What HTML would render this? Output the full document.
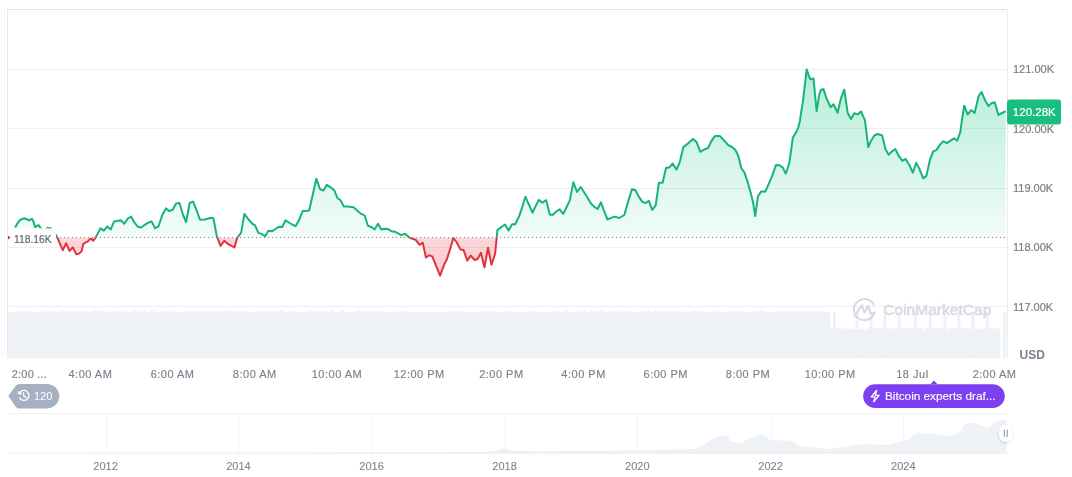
<!DOCTYPE html>
<html><head><meta charset="utf-8"><title>Bitcoin price chart</title>
<style>
html,body{margin:0;padding:0;background:#fff;}
body{width:1072px;height:477px;overflow:hidden;position:relative;font-family:'Liberation Sans', Arial, sans-serif;}
svg{position:absolute;left:0;top:0;display:block;}
svg text{font-family:'Liberation Sans', Arial, sans-serif;}
</style></head>
<body>
<svg width="1072" height="477" viewBox="0 0 1072 477">
<defs>
  <linearGradient id="gG" x1="0" y1="69" x2="0" y2="237.5" gradientUnits="userSpaceOnUse">
    <stop offset="0" stop-color="#16c784" stop-opacity="0.32"/>
    <stop offset="1" stop-color="#16c784" stop-opacity="0.055"/>
  </linearGradient>
  <linearGradient id="gR" x1="0" y1="237.5" x2="0" y2="276" gradientUnits="userSpaceOnUse">
    <stop offset="0" stop-color="#ea3943" stop-opacity="0.2"/>
    <stop offset="1" stop-color="#ea3943" stop-opacity="0.27"/>
  </linearGradient>
  <clipPath id="cUp"><rect x="0" y="0" width="1072" height="237.5"/></clipPath>
  <clipPath id="cDn"><rect x="0" y="237.5" width="1072" height="200"/></clipPath>
  <filter id="sh" x="-50%" y="-50%" width="200%" height="200%"><feDropShadow dx="0" dy="1" stdDeviation="1.2" flood-color="#000" flood-opacity="0.18"/></filter>
</defs>
<!-- frame -->
<g stroke="#eff2f5" stroke-width="1" fill="none">
  <line x1="7" y1="9.5" x2="1008" y2="9.5" stroke="#e5e6e8"/>
  <line x1="8" y1="11.5" x2="1007" y2="11.5" stroke="#f8f8f9"/>
  <line x1="7.5" y1="9" x2="7.5" y2="358" stroke="#ededef"/>
  <line x1="1.5" y1="9" x2="1.5" y2="358" stroke="#f9f9fa"/>
  <line x1="4.5" y1="9" x2="4.5" y2="358" stroke="#f9f9fa"/>
  <line x1="1007.5" y1="9" x2="1007.5" y2="358" stroke="#ededef"/>
</g>
<g stroke="#eeeff1" stroke-width="1"><line x1="8" y1="69.5" x2="1007" y2="69.5"/><line x1="8" y1="128.5" x2="1007" y2="128.5"/><line x1="8" y1="188.5" x2="1007" y2="188.5"/><line x1="8" y1="247.5" x2="1007" y2="247.5"/><line x1="8" y1="306.5" x2="1007" y2="306.5"/></g>
<!-- volume -->
<rect x="8" y="312" width="821" height="46" fill="#f4f6f8"/><rect x="829" y="329" width="171" height="29" fill="#f4f6f8"/><g fill="#eef1f5"><rect x="8.00" y="312.0" width="2.90" height="46.0"/><rect x="11.40" y="311.5" width="2.90" height="46.5"/><rect x="14.80" y="313.0" width="2.90" height="45.0"/><rect x="18.20" y="311.5" width="2.90" height="46.5"/><rect x="21.60" y="311.0" width="2.90" height="47.0"/><rect x="25.00" y="311.0" width="2.90" height="47.0"/><rect x="28.40" y="311.5" width="2.90" height="46.5"/><rect x="31.80" y="312.5" width="2.90" height="45.5"/><rect x="35.20" y="312.0" width="2.90" height="46.0"/><rect x="38.60" y="312.0" width="2.90" height="46.0"/><rect x="42.00" y="311.5" width="2.90" height="46.5"/><rect x="45.40" y="311.5" width="2.90" height="46.5"/><rect x="48.80" y="310.5" width="2.90" height="47.5"/><rect x="52.20" y="311.5" width="2.90" height="46.5"/><rect x="55.60" y="312.0" width="2.90" height="46.0"/><rect x="59.00" y="311.5" width="2.90" height="46.5"/><rect x="62.40" y="310.5" width="2.90" height="47.5"/><rect x="65.80" y="311.0" width="2.90" height="47.0"/><rect x="69.20" y="311.0" width="2.90" height="47.0"/><rect x="72.60" y="311.5" width="2.90" height="46.5"/><rect x="76.00" y="311.0" width="2.90" height="47.0"/><rect x="79.40" y="312.5" width="2.90" height="45.5"/><rect x="82.80" y="311.0" width="2.90" height="47.0"/><rect x="86.20" y="312.5" width="2.90" height="45.5"/><rect x="89.60" y="311.5" width="2.90" height="46.5"/><rect x="93.00" y="310.5" width="2.90" height="47.5"/><rect x="96.40" y="310.5" width="2.90" height="47.5"/><rect x="99.80" y="310.5" width="2.90" height="47.5"/><rect x="103.20" y="311.5" width="2.90" height="46.5"/><rect x="106.60" y="311.5" width="2.90" height="46.5"/><rect x="110.00" y="313.0" width="2.90" height="45.0"/><rect x="113.40" y="311.0" width="2.90" height="47.0"/><rect x="116.80" y="311.0" width="2.90" height="47.0"/><rect x="120.20" y="311.5" width="2.90" height="46.5"/><rect x="123.60" y="311.5" width="2.90" height="46.5"/><rect x="127.00" y="312.0" width="2.90" height="46.0"/><rect x="130.40" y="312.5" width="2.90" height="45.5"/><rect x="133.80" y="310.5" width="2.90" height="47.5"/><rect x="137.20" y="312.5" width="2.90" height="45.5"/><rect x="140.60" y="310.5" width="2.90" height="47.5"/><rect x="144.00" y="310.5" width="2.90" height="47.5"/><rect x="147.40" y="313.0" width="2.90" height="45.0"/><rect x="150.80" y="310.5" width="2.90" height="47.5"/><rect x="154.20" y="312.0" width="2.90" height="46.0"/><rect x="157.60" y="313.0" width="2.90" height="45.0"/><rect x="161.00" y="311.0" width="2.90" height="47.0"/><rect x="164.40" y="312.5" width="2.90" height="45.5"/><rect x="167.80" y="311.5" width="2.90" height="46.5"/><rect x="171.20" y="313.0" width="2.90" height="45.0"/><rect x="174.60" y="311.0" width="2.90" height="47.0"/><rect x="178.00" y="312.0" width="2.90" height="46.0"/><rect x="181.40" y="312.5" width="2.90" height="45.5"/><rect x="184.80" y="312.5" width="2.90" height="45.5"/><rect x="188.20" y="311.0" width="2.90" height="47.0"/><rect x="191.60" y="311.0" width="2.90" height="47.0"/><rect x="195.00" y="311.5" width="2.90" height="46.5"/><rect x="198.40" y="311.5" width="2.90" height="46.5"/><rect x="201.80" y="311.0" width="2.90" height="47.0"/><rect x="205.20" y="313.0" width="2.90" height="45.0"/><rect x="208.60" y="311.0" width="2.90" height="47.0"/><rect x="212.00" y="310.5" width="2.90" height="47.5"/><rect x="215.40" y="311.5" width="2.90" height="46.5"/><rect x="218.80" y="311.0" width="2.90" height="47.0"/><rect x="222.20" y="312.5" width="2.90" height="45.5"/><rect x="225.60" y="310.5" width="2.90" height="47.5"/><rect x="229.00" y="310.5" width="2.90" height="47.5"/><rect x="232.40" y="311.0" width="2.90" height="47.0"/><rect x="235.80" y="311.0" width="2.90" height="47.0"/><rect x="239.20" y="311.0" width="2.90" height="47.0"/><rect x="242.60" y="310.5" width="2.90" height="47.5"/><rect x="246.00" y="313.0" width="2.90" height="45.0"/><rect x="249.40" y="312.5" width="2.90" height="45.5"/><rect x="252.80" y="312.0" width="2.90" height="46.0"/><rect x="256.20" y="311.0" width="2.90" height="47.0"/><rect x="259.60" y="312.5" width="2.90" height="45.5"/><rect x="263.00" y="311.0" width="2.90" height="47.0"/><rect x="266.40" y="311.0" width="2.90" height="47.0"/><rect x="269.80" y="311.0" width="2.90" height="47.0"/><rect x="273.20" y="311.0" width="2.90" height="47.0"/><rect x="276.60" y="312.0" width="2.90" height="46.0"/><rect x="280.00" y="310.5" width="2.90" height="47.5"/><rect x="283.40" y="312.5" width="2.90" height="45.5"/><rect x="286.80" y="312.5" width="2.90" height="45.5"/><rect x="290.20" y="311.5" width="2.90" height="46.5"/><rect x="293.60" y="311.0" width="2.90" height="47.0"/><rect x="297.00" y="313.0" width="2.90" height="45.0"/><rect x="300.40" y="313.0" width="2.90" height="45.0"/><rect x="303.80" y="313.0" width="2.90" height="45.0"/><rect x="307.20" y="311.5" width="2.90" height="46.5"/><rect x="310.60" y="310.5" width="2.90" height="47.5"/><rect x="314.00" y="310.5" width="2.90" height="47.5"/><rect x="317.40" y="311.5" width="2.90" height="46.5"/><rect x="320.80" y="310.5" width="2.90" height="47.5"/><rect x="324.20" y="311.0" width="2.90" height="47.0"/><rect x="327.60" y="312.5" width="2.90" height="45.5"/><rect x="331.00" y="310.5" width="2.90" height="47.5"/><rect x="334.40" y="312.0" width="2.90" height="46.0"/><rect x="337.80" y="312.5" width="2.90" height="45.5"/><rect x="341.20" y="310.5" width="2.90" height="47.5"/><rect x="344.60" y="312.5" width="2.90" height="45.5"/><rect x="348.00" y="312.5" width="2.90" height="45.5"/><rect x="351.40" y="313.0" width="2.90" height="45.0"/><rect x="354.80" y="311.0" width="2.90" height="47.0"/><rect x="358.20" y="310.5" width="2.90" height="47.5"/><rect x="361.60" y="313.0" width="2.90" height="45.0"/><rect x="365.00" y="311.0" width="2.90" height="47.0"/><rect x="368.40" y="310.5" width="2.90" height="47.5"/><rect x="371.80" y="311.5" width="2.90" height="46.5"/><rect x="375.20" y="311.0" width="2.90" height="47.0"/><rect x="378.60" y="313.0" width="2.90" height="45.0"/><rect x="382.00" y="311.5" width="2.90" height="46.5"/><rect x="385.40" y="313.0" width="2.90" height="45.0"/><rect x="388.80" y="313.0" width="2.90" height="45.0"/><rect x="392.20" y="312.5" width="2.90" height="45.5"/><rect x="395.60" y="311.5" width="2.90" height="46.5"/><rect x="399.00" y="311.0" width="2.90" height="47.0"/><rect x="402.40" y="311.0" width="2.90" height="47.0"/><rect x="405.80" y="311.0" width="2.90" height="47.0"/><rect x="409.20" y="313.0" width="2.90" height="45.0"/><rect x="412.60" y="312.5" width="2.90" height="45.5"/><rect x="416.00" y="311.5" width="2.90" height="46.5"/><rect x="419.40" y="312.5" width="2.90" height="45.5"/><rect x="422.80" y="313.0" width="2.90" height="45.0"/><rect x="426.20" y="311.5" width="2.90" height="46.5"/><rect x="429.60" y="313.0" width="2.90" height="45.0"/><rect x="433.00" y="311.5" width="2.90" height="46.5"/><rect x="436.40" y="313.0" width="2.90" height="45.0"/><rect x="439.80" y="313.0" width="2.90" height="45.0"/><rect x="443.20" y="312.5" width="2.90" height="45.5"/><rect x="446.60" y="312.5" width="2.90" height="45.5"/><rect x="450.00" y="310.5" width="2.90" height="47.5"/><rect x="453.40" y="311.0" width="2.90" height="47.0"/><rect x="456.80" y="311.0" width="2.90" height="47.0"/><rect x="460.20" y="311.5" width="2.90" height="46.5"/><rect x="463.60" y="312.5" width="2.90" height="45.5"/><rect x="467.00" y="312.0" width="2.90" height="46.0"/><rect x="470.40" y="312.5" width="2.90" height="45.5"/><rect x="473.80" y="312.0" width="2.90" height="46.0"/><rect x="477.20" y="313.0" width="2.90" height="45.0"/><rect x="480.60" y="311.5" width="2.90" height="46.5"/><rect x="484.00" y="310.5" width="2.90" height="47.5"/><rect x="487.40" y="311.0" width="2.90" height="47.0"/><rect x="490.80" y="311.0" width="2.90" height="47.0"/><rect x="494.20" y="313.0" width="2.90" height="45.0"/><rect x="497.60" y="313.0" width="2.90" height="45.0"/><rect x="501.00" y="312.0" width="2.90" height="46.0"/><rect x="504.40" y="311.5" width="2.90" height="46.5"/><rect x="507.80" y="311.5" width="2.90" height="46.5"/><rect x="511.20" y="311.0" width="2.90" height="47.0"/><rect x="514.60" y="313.0" width="2.90" height="45.0"/><rect x="518.00" y="312.0" width="2.90" height="46.0"/><rect x="521.40" y="311.5" width="2.90" height="46.5"/><rect x="524.80" y="312.5" width="2.90" height="45.5"/><rect x="528.20" y="312.0" width="2.90" height="46.0"/><rect x="531.60" y="311.0" width="2.90" height="47.0"/><rect x="535.00" y="311.0" width="2.90" height="47.0"/><rect x="538.40" y="312.0" width="2.90" height="46.0"/><rect x="541.80" y="313.0" width="2.90" height="45.0"/><rect x="545.20" y="311.5" width="2.90" height="46.5"/><rect x="548.60" y="312.5" width="2.90" height="45.5"/><rect x="552.00" y="313.0" width="2.90" height="45.0"/><rect x="555.40" y="311.0" width="2.90" height="47.0"/><rect x="558.80" y="313.0" width="2.90" height="45.0"/><rect x="562.20" y="311.5" width="2.90" height="46.5"/><rect x="565.60" y="310.5" width="2.90" height="47.5"/><rect x="569.00" y="312.5" width="2.90" height="45.5"/><rect x="572.40" y="312.5" width="2.90" height="45.5"/><rect x="575.80" y="311.5" width="2.90" height="46.5"/><rect x="579.20" y="313.0" width="2.90" height="45.0"/><rect x="582.60" y="310.5" width="2.90" height="47.5"/><rect x="586.00" y="312.5" width="2.90" height="45.5"/><rect x="589.40" y="310.5" width="2.90" height="47.5"/><rect x="592.80" y="310.5" width="2.90" height="47.5"/><rect x="596.20" y="311.0" width="2.90" height="47.0"/><rect x="599.60" y="310.5" width="2.90" height="47.5"/><rect x="603.00" y="311.5" width="2.90" height="46.5"/><rect x="606.40" y="312.0" width="2.90" height="46.0"/><rect x="609.80" y="311.0" width="2.90" height="47.0"/><rect x="613.20" y="311.5" width="2.90" height="46.5"/><rect x="616.60" y="310.5" width="2.90" height="47.5"/><rect x="620.00" y="312.0" width="2.90" height="46.0"/><rect x="623.40" y="311.0" width="2.90" height="47.0"/><rect x="626.80" y="311.5" width="2.90" height="46.5"/><rect x="630.20" y="312.5" width="2.90" height="45.5"/><rect x="633.60" y="313.0" width="2.90" height="45.0"/><rect x="637.00" y="312.0" width="2.90" height="46.0"/><rect x="640.40" y="311.0" width="2.90" height="47.0"/><rect x="643.80" y="312.5" width="2.90" height="45.5"/><rect x="647.20" y="311.0" width="2.90" height="47.0"/><rect x="650.60" y="312.0" width="2.90" height="46.0"/><rect x="654.00" y="311.0" width="2.90" height="47.0"/><rect x="657.40" y="311.0" width="2.90" height="47.0"/><rect x="660.80" y="312.0" width="2.90" height="46.0"/><rect x="664.20" y="310.5" width="2.90" height="47.5"/><rect x="667.60" y="311.0" width="2.90" height="47.0"/><rect x="671.00" y="311.0" width="2.90" height="47.0"/><rect x="674.40" y="311.5" width="2.90" height="46.5"/><rect x="677.80" y="311.0" width="2.90" height="47.0"/><rect x="681.20" y="311.5" width="2.90" height="46.5"/><rect x="684.60" y="312.5" width="2.90" height="45.5"/><rect x="688.00" y="312.0" width="2.90" height="46.0"/><rect x="691.40" y="311.0" width="2.90" height="47.0"/><rect x="694.80" y="310.5" width="2.90" height="47.5"/><rect x="698.20" y="311.0" width="2.90" height="47.0"/><rect x="701.60" y="311.0" width="2.90" height="47.0"/><rect x="705.00" y="313.0" width="2.90" height="45.0"/><rect x="708.40" y="311.5" width="2.90" height="46.5"/><rect x="711.80" y="312.5" width="2.90" height="45.5"/><rect x="715.20" y="311.5" width="2.90" height="46.5"/><rect x="718.60" y="311.0" width="2.90" height="47.0"/><rect x="722.00" y="313.0" width="2.90" height="45.0"/><rect x="725.40" y="312.0" width="2.90" height="46.0"/><rect x="728.80" y="312.0" width="2.90" height="46.0"/><rect x="732.20" y="311.0" width="2.90" height="47.0"/><rect x="735.60" y="311.0" width="2.90" height="47.0"/><rect x="739.00" y="311.5" width="2.90" height="46.5"/><rect x="742.40" y="312.0" width="2.90" height="46.0"/><rect x="745.80" y="312.5" width="2.90" height="45.5"/><rect x="749.20" y="311.5" width="2.90" height="46.5"/><rect x="752.60" y="311.0" width="2.90" height="47.0"/><rect x="756.00" y="311.5" width="2.90" height="46.5"/><rect x="759.40" y="310.5" width="2.90" height="47.5"/><rect x="762.80" y="311.0" width="2.90" height="47.0"/><rect x="766.20" y="312.5" width="2.90" height="45.5"/><rect x="769.60" y="312.0" width="2.90" height="46.0"/><rect x="773.00" y="312.5" width="2.90" height="45.5"/><rect x="776.40" y="310.5" width="2.90" height="47.5"/><rect x="779.80" y="311.0" width="2.90" height="47.0"/><rect x="783.20" y="311.5" width="2.90" height="46.5"/><rect x="786.60" y="313.0" width="2.90" height="45.0"/><rect x="790.00" y="311.0" width="2.90" height="47.0"/><rect x="793.40" y="311.0" width="2.90" height="47.0"/><rect x="796.80" y="311.5" width="2.90" height="46.5"/><rect x="800.20" y="311.0" width="2.90" height="47.0"/><rect x="803.60" y="311.0" width="2.90" height="47.0"/><rect x="807.00" y="311.0" width="2.90" height="47.0"/><rect x="810.40" y="311.0" width="2.90" height="47.0"/><rect x="813.80" y="311.5" width="2.90" height="46.5"/><rect x="817.20" y="311.0" width="2.90" height="47.0"/><rect x="820.60" y="311.0" width="2.90" height="47.0"/><rect x="824.00" y="311.5" width="2.90" height="46.5"/><rect x="827.40" y="313.0" width="2.90" height="45.0"/><rect x="830.80" y="328.5" width="2.90" height="29.5"/><rect x="834.20" y="329.0" width="2.90" height="29.0"/><rect x="837.60" y="328.0" width="2.90" height="30.0"/><rect x="841.00" y="329.0" width="2.90" height="29.0"/><rect x="844.40" y="327.5" width="2.90" height="30.5"/><rect x="847.80" y="327.5" width="2.90" height="30.5"/><rect x="851.20" y="329.0" width="2.90" height="29.0"/><rect x="854.60" y="329.0" width="2.90" height="29.0"/><rect x="858.00" y="329.0" width="2.90" height="29.0"/><rect x="861.40" y="328.5" width="2.90" height="29.5"/><rect x="864.80" y="329.0" width="2.90" height="29.0"/><rect x="868.20" y="327.5" width="2.90" height="30.5"/><rect x="871.60" y="328.0" width="2.90" height="30.0"/><rect x="875.00" y="328.5" width="2.90" height="29.5"/><rect x="878.40" y="328.0" width="2.90" height="30.0"/><rect x="881.80" y="327.5" width="2.90" height="30.5"/><rect x="885.20" y="328.0" width="2.90" height="30.0"/><rect x="888.60" y="328.5" width="2.90" height="29.5"/><rect x="892.00" y="328.0" width="2.90" height="30.0"/><rect x="895.40" y="329.0" width="2.90" height="29.0"/><rect x="898.80" y="327.5" width="2.90" height="30.5"/><rect x="902.20" y="327.5" width="2.90" height="30.5"/><rect x="905.60" y="328.0" width="2.90" height="30.0"/><rect x="909.00" y="327.5" width="2.90" height="30.5"/><rect x="912.40" y="328.0" width="2.90" height="30.0"/><rect x="915.80" y="329.0" width="2.90" height="29.0"/><rect x="919.20" y="327.5" width="2.90" height="30.5"/><rect x="922.60" y="329.0" width="2.90" height="29.0"/><rect x="926.00" y="327.5" width="2.90" height="30.5"/><rect x="929.40" y="327.5" width="2.90" height="30.5"/><rect x="932.80" y="327.5" width="2.90" height="30.5"/><rect x="936.20" y="328.0" width="2.90" height="30.0"/><rect x="939.60" y="328.5" width="2.90" height="29.5"/><rect x="943.00" y="328.5" width="2.90" height="29.5"/><rect x="946.40" y="329.0" width="2.90" height="29.0"/><rect x="949.80" y="328.0" width="2.90" height="30.0"/><rect x="953.20" y="327.5" width="2.90" height="30.5"/><rect x="956.60" y="328.5" width="2.90" height="29.5"/><rect x="960.00" y="327.5" width="2.90" height="30.5"/><rect x="963.40" y="328.5" width="2.90" height="29.5"/><rect x="966.80" y="328.0" width="2.90" height="30.0"/><rect x="970.20" y="329.0" width="2.90" height="29.0"/><rect x="973.60" y="329.0" width="2.90" height="29.0"/><rect x="977.00" y="329.0" width="2.90" height="29.0"/><rect x="980.40" y="328.0" width="2.90" height="30.0"/><rect x="983.80" y="327.5" width="2.90" height="30.5"/><rect x="987.20" y="328.0" width="2.90" height="30.0"/><rect x="990.60" y="327.5" width="2.90" height="30.5"/><rect x="994.00" y="328.0" width="2.90" height="30.0"/><rect x="997.40" y="329.0" width="2.90" height="29.0"/><rect x="833.00" y="311.5" width="2.9" height="46.5"/><rect x="855.50" y="311.5" width="2.9" height="46.5"/><rect x="869.50" y="311.5" width="2.9" height="46.5"/><rect x="883.50" y="311.5" width="2.9" height="46.5"/><rect x="897.70" y="311.5" width="2.9" height="46.5"/><rect x="914.00" y="311.5" width="2.9" height="46.5"/><rect x="928.80" y="311.5" width="2.9" height="46.5"/><rect x="943.50" y="311.5" width="2.9" height="46.5"/><rect x="957.50" y="311.5" width="2.9" height="46.5"/><rect x="971.50" y="311.5" width="2.9" height="46.5"/><rect x="986.00" y="311.5" width="2.9" height="46.5"/><rect x="1003.20" y="311.5" width="2.9" height="46.5"/></g>
<!-- watermark -->
<g opacity="0.9">
  <path d="M874.6 312.6 A10.6 10.6 0 1 1 874.2 305.5" fill="none" stroke="#d2d7df" stroke-width="2"/>
  <path d="M854.5 316.5 L861.8 305 L864.5 312.6 L868 305.8 L870.3 312.4 Q871.5 314.5 874.8 312.4" fill="none" stroke="#d2d7df" stroke-width="2" stroke-linejoin="round" stroke-linecap="round"/>
  <text x="883.3" y="315.4" font-size="14.6" font-weight="400" fill="#d2d7df" stroke="#d2d7df" stroke-width="0.55" textLength="108" lengthAdjust="spacingAndGlyphs">CoinMarketCap</text>
</g>
<!-- fills -->
<path d="M15.1 227.6 L17.2 223.8 L19.7 220.4 L22.2 218.8 L24.7 218.5 L26.8 219.2 L28.9 220.4 L31.9 218.8 L33.5 221.7 L35.2 227.2 L36.9 225.9 L38.6 225.1 L40.2 227.6 L43.0 231.5 L45.0 230.5 L47.4 227.9 L50.3 227.9 L53.0 232.0 L56.6 235.9 L62.7 250.2 L66.1 243.4 L69.5 250.9 L72.9 247.5 L76.3 254.3 L79.1 253.6 L81.8 250.9 L83.2 244.1 L85.2 242.7 L87.9 241.3 L90.6 238.6 L93.4 240.7 L95.4 237.9 L100.5 228.2 L103.9 230.6 L107.3 226.5 L110.7 229.5 L114.1 221.4 L116.8 221.1 L120.9 220.3 L124.3 223.8 L127.7 218.6 L131.1 216.6 L134.5 222.7 L137.9 226.8 L141.3 227.5 L144.8 224.8 L148.2 222.7 L151.6 221.4 L155.0 228.2 L158.4 226.5 L162.5 214.5 L165.9 208.4 L169.3 211.1 L172.7 209.8 L176.1 203.6 L179.5 203.0 L182.9 214.5 L186.1 222.0 L189.7 203.0 L193.1 201.6 L196.6 210.4 L200.0 219.7 L205.0 219.5 L210.9 217.8 L213.4 218.3 L216.8 236.2 L220.5 245.8 L224.3 240.8 L227.7 243.8 L231.0 245.5 L234.4 247.5 L237.2 237.9 L241.1 232.9 L244.4 213.9 L248.6 219.5 L252.0 223.3 L255.0 225.3 L258.4 232.9 L262.0 234.1 L265.1 236.2 L268.4 230.7 L272.1 231.2 L275.5 229.0 L278.8 226.7 L282.2 227.0 L285.5 220.3 L288.9 222.5 L292.2 224.5 L295.6 226.2 L298.9 220.3 L302.6 211.1 L306.5 211.1 L309.2 210.2 L312.6 195.2 L316.3 178.7 L320.1 189.3 L323.5 190.5 L326.8 184.8 L331.0 187.6 L334.4 190.5 L337.2 197.7 L340.6 200.2 L343.9 206.6 L347.8 206.6 L353.7 207.2 L357.8 211.1 L361.2 213.9 L364.6 215.3 L367.9 225.8 L371.3 227.0 L374.6 229.5 L378.0 223.7 L381.3 229.5 L384.7 228.7 L388.0 229.0 L391.4 231.2 L394.7 231.7 L398.1 233.4 L401.4 235.1 L405.0 233.8 L409.4 237.5 L412.6 238.8 L415.7 239.9 L419.6 244.9 L422.8 242.7 L425.9 257.5 L429.1 255.3 L432.2 256.4 L436.1 265.8 L440.1 275.7 L444.0 265.0 L447.1 258.7 L450.3 248.5 L453.4 238.0 L456.6 242.2 L460.5 249.6 L463.6 250.1 L467.3 260.6 L470.7 255.6 L474.6 260.0 L477.8 258.7 L480.9 252.7 L484.5 267.4 L488.0 247.7 L491.5 264.7 L495.1 254.0 L497.4 230.1 L501.4 227.0 L505.0 224.5 L508.5 230.5 L512.1 224.2 L515.2 224.2 L519.1 216.4 L522.3 206.9 L525.4 196.7 L528.9 204.6 L532.5 212.7 L535.6 206.1 L538.8 199.9 L542.4 202.7 L546.2 200.2 L549.8 214.8 L552.9 214.8 L556.1 211.6 L559.7 209.3 L563.1 214.0 L566.3 207.7 L569.7 200.6 L573.4 182.3 L577.0 192.0 L580.7 187.0 L584.4 192.8 L587.5 197.5 L590.6 203.0 L594.3 206.9 L597.7 209.0 L600.9 202.2 L604.0 210.9 L607.5 219.5 L611.1 217.9 L614.8 216.6 L619.2 218.0 L624.3 215.0 L628.0 201.9 L631.9 189.2 L635.4 190.3 L638.8 196.6 L642.3 201.9 L645.7 203.0 L648.7 200.7 L652.2 209.9 L655.7 205.3 L658.9 182.7 L662.6 182.7 L666.0 168.0 L669.5 167.3 L672.7 163.4 L676.4 169.6 L679.6 162.7 L683.3 147.2 L688.4 143.1 L693.0 138.9 L696.5 141.9 L700.4 151.8 L704.1 149.5 L708.0 148.1 L711.5 140.8 L714.9 136.1 L719.8 136.0 L724.4 140.7 L728.0 144.9 L731.8 147.0 L735.5 150.1 L738.5 156.4 L741.2 168.0 L744.3 172.1 L747.5 181.6 L751.0 194.1 L753.1 202.5 L755.2 216.1 L758.0 196.2 L761.1 191.6 L765.3 191.6 L768.4 184.7 L772.0 176.3 L775.9 165.1 L779.6 165.2 L782.8 167.6 L785.8 173.7 L789.2 163.5 L790.8 152.5 L792.8 137.6 L796.1 132.3 L798.3 127.3 L799.9 121.0 L801.5 110.0 L802.8 102.6 L804.9 84.8 L806.7 69.4 L808.5 74.8 L810.4 79.4 L813.5 78.4 L816.6 111.1 L819.2 94.8 L820.9 89.8 L823.5 89.1 L826.3 97.6 L830.5 107.2 L833.6 104.2 L837.6 112.7 L840.9 98.4 L844.3 89.7 L847.6 112.7 L851.0 118.9 L854.3 113.2 L857.7 114.4 L861.0 111.5 L864.9 120.2 L868.3 147.1 L871.1 140.7 L874.5 135.3 L877.8 134.0 L882.2 135.5 L885.4 149.1 L888.6 154.8 L892.0 151.4 L895.4 149.1 L898.6 155.7 L902.4 160.8 L905.6 158.9 L909.4 165.2 L912.8 172.7 L916.2 162.7 L919.4 168.9 L923.2 178.4 L926.4 175.9 L929.8 160.4 L933.2 151.4 L936.4 150.1 L940.2 144.4 L943.4 141.2 L946.8 143.1 L950.6 140.6 L954.0 138.3 L957.2 140.6 L960.3 132.1 L962.0 119.6 L964.2 105.7 L967.6 114.5 L971.3 110.1 L974.6 113.0 L976.7 104.2 L978.6 96.1 L981.5 92.0 L985.2 100.5 L988.4 106.1 L991.4 103.2 L994.7 102.3 L998.4 114.9 L1002.1 113.0 L1005.7 111.1 L1005.7 237.5 L15.1 237.5 Z" fill="url(#gG)" clip-path="url(#cUp)"/>
<path d="M15.1 227.6 L17.2 223.8 L19.7 220.4 L22.2 218.8 L24.7 218.5 L26.8 219.2 L28.9 220.4 L31.9 218.8 L33.5 221.7 L35.2 227.2 L36.9 225.9 L38.6 225.1 L40.2 227.6 L43.0 231.5 L45.0 230.5 L47.4 227.9 L50.3 227.9 L53.0 232.0 L56.6 235.9 L62.7 250.2 L66.1 243.4 L69.5 250.9 L72.9 247.5 L76.3 254.3 L79.1 253.6 L81.8 250.9 L83.2 244.1 L85.2 242.7 L87.9 241.3 L90.6 238.6 L93.4 240.7 L95.4 237.9 L100.5 228.2 L103.9 230.6 L107.3 226.5 L110.7 229.5 L114.1 221.4 L116.8 221.1 L120.9 220.3 L124.3 223.8 L127.7 218.6 L131.1 216.6 L134.5 222.7 L137.9 226.8 L141.3 227.5 L144.8 224.8 L148.2 222.7 L151.6 221.4 L155.0 228.2 L158.4 226.5 L162.5 214.5 L165.9 208.4 L169.3 211.1 L172.7 209.8 L176.1 203.6 L179.5 203.0 L182.9 214.5 L186.1 222.0 L189.7 203.0 L193.1 201.6 L196.6 210.4 L200.0 219.7 L205.0 219.5 L210.9 217.8 L213.4 218.3 L216.8 236.2 L220.5 245.8 L224.3 240.8 L227.7 243.8 L231.0 245.5 L234.4 247.5 L237.2 237.9 L241.1 232.9 L244.4 213.9 L248.6 219.5 L252.0 223.3 L255.0 225.3 L258.4 232.9 L262.0 234.1 L265.1 236.2 L268.4 230.7 L272.1 231.2 L275.5 229.0 L278.8 226.7 L282.2 227.0 L285.5 220.3 L288.9 222.5 L292.2 224.5 L295.6 226.2 L298.9 220.3 L302.6 211.1 L306.5 211.1 L309.2 210.2 L312.6 195.2 L316.3 178.7 L320.1 189.3 L323.5 190.5 L326.8 184.8 L331.0 187.6 L334.4 190.5 L337.2 197.7 L340.6 200.2 L343.9 206.6 L347.8 206.6 L353.7 207.2 L357.8 211.1 L361.2 213.9 L364.6 215.3 L367.9 225.8 L371.3 227.0 L374.6 229.5 L378.0 223.7 L381.3 229.5 L384.7 228.7 L388.0 229.0 L391.4 231.2 L394.7 231.7 L398.1 233.4 L401.4 235.1 L405.0 233.8 L409.4 237.5 L412.6 238.8 L415.7 239.9 L419.6 244.9 L422.8 242.7 L425.9 257.5 L429.1 255.3 L432.2 256.4 L436.1 265.8 L440.1 275.7 L444.0 265.0 L447.1 258.7 L450.3 248.5 L453.4 238.0 L456.6 242.2 L460.5 249.6 L463.6 250.1 L467.3 260.6 L470.7 255.6 L474.6 260.0 L477.8 258.7 L480.9 252.7 L484.5 267.4 L488.0 247.7 L491.5 264.7 L495.1 254.0 L497.4 230.1 L501.4 227.0 L505.0 224.5 L508.5 230.5 L512.1 224.2 L515.2 224.2 L519.1 216.4 L522.3 206.9 L525.4 196.7 L528.9 204.6 L532.5 212.7 L535.6 206.1 L538.8 199.9 L542.4 202.7 L546.2 200.2 L549.8 214.8 L552.9 214.8 L556.1 211.6 L559.7 209.3 L563.1 214.0 L566.3 207.7 L569.7 200.6 L573.4 182.3 L577.0 192.0 L580.7 187.0 L584.4 192.8 L587.5 197.5 L590.6 203.0 L594.3 206.9 L597.7 209.0 L600.9 202.2 L604.0 210.9 L607.5 219.5 L611.1 217.9 L614.8 216.6 L619.2 218.0 L624.3 215.0 L628.0 201.9 L631.9 189.2 L635.4 190.3 L638.8 196.6 L642.3 201.9 L645.7 203.0 L648.7 200.7 L652.2 209.9 L655.7 205.3 L658.9 182.7 L662.6 182.7 L666.0 168.0 L669.5 167.3 L672.7 163.4 L676.4 169.6 L679.6 162.7 L683.3 147.2 L688.4 143.1 L693.0 138.9 L696.5 141.9 L700.4 151.8 L704.1 149.5 L708.0 148.1 L711.5 140.8 L714.9 136.1 L719.8 136.0 L724.4 140.7 L728.0 144.9 L731.8 147.0 L735.5 150.1 L738.5 156.4 L741.2 168.0 L744.3 172.1 L747.5 181.6 L751.0 194.1 L753.1 202.5 L755.2 216.1 L758.0 196.2 L761.1 191.6 L765.3 191.6 L768.4 184.7 L772.0 176.3 L775.9 165.1 L779.6 165.2 L782.8 167.6 L785.8 173.7 L789.2 163.5 L790.8 152.5 L792.8 137.6 L796.1 132.3 L798.3 127.3 L799.9 121.0 L801.5 110.0 L802.8 102.6 L804.9 84.8 L806.7 69.4 L808.5 74.8 L810.4 79.4 L813.5 78.4 L816.6 111.1 L819.2 94.8 L820.9 89.8 L823.5 89.1 L826.3 97.6 L830.5 107.2 L833.6 104.2 L837.6 112.7 L840.9 98.4 L844.3 89.7 L847.6 112.7 L851.0 118.9 L854.3 113.2 L857.7 114.4 L861.0 111.5 L864.9 120.2 L868.3 147.1 L871.1 140.7 L874.5 135.3 L877.8 134.0 L882.2 135.5 L885.4 149.1 L888.6 154.8 L892.0 151.4 L895.4 149.1 L898.6 155.7 L902.4 160.8 L905.6 158.9 L909.4 165.2 L912.8 172.7 L916.2 162.7 L919.4 168.9 L923.2 178.4 L926.4 175.9 L929.8 160.4 L933.2 151.4 L936.4 150.1 L940.2 144.4 L943.4 141.2 L946.8 143.1 L950.6 140.6 L954.0 138.3 L957.2 140.6 L960.3 132.1 L962.0 119.6 L964.2 105.7 L967.6 114.5 L971.3 110.1 L974.6 113.0 L976.7 104.2 L978.6 96.1 L981.5 92.0 L985.2 100.5 L988.4 106.1 L991.4 103.2 L994.7 102.3 L998.4 114.9 L1002.1 113.0 L1005.7 111.1 L1005.7 237.5 L15.1 237.5 Z" fill="url(#gR)" clip-path="url(#cDn)"/>
<!-- baseline dotted -->
<line x1="8" y1="237.5" x2="1006" y2="237.5" stroke="#7f838b" stroke-width="1" stroke-dasharray="1 3"/>
<!-- line -->
<path d="M15.1 227.6 L17.2 223.8 L19.7 220.4 L22.2 218.8 L24.7 218.5 L26.8 219.2 L28.9 220.4 L31.9 218.8 L33.5 221.7 L35.2 227.2 L36.9 225.9 L38.6 225.1 L40.2 227.6 L43.0 231.5 L45.0 230.5 L47.4 227.9 L50.3 227.9 L53.0 232.0 L56.6 235.9 L62.7 250.2 L66.1 243.4 L69.5 250.9 L72.9 247.5 L76.3 254.3 L79.1 253.6 L81.8 250.9 L83.2 244.1 L85.2 242.7 L87.9 241.3 L90.6 238.6 L93.4 240.7 L95.4 237.9 L100.5 228.2 L103.9 230.6 L107.3 226.5 L110.7 229.5 L114.1 221.4 L116.8 221.1 L120.9 220.3 L124.3 223.8 L127.7 218.6 L131.1 216.6 L134.5 222.7 L137.9 226.8 L141.3 227.5 L144.8 224.8 L148.2 222.7 L151.6 221.4 L155.0 228.2 L158.4 226.5 L162.5 214.5 L165.9 208.4 L169.3 211.1 L172.7 209.8 L176.1 203.6 L179.5 203.0 L182.9 214.5 L186.1 222.0 L189.7 203.0 L193.1 201.6 L196.6 210.4 L200.0 219.7 L205.0 219.5 L210.9 217.8 L213.4 218.3 L216.8 236.2 L220.5 245.8 L224.3 240.8 L227.7 243.8 L231.0 245.5 L234.4 247.5 L237.2 237.9 L241.1 232.9 L244.4 213.9 L248.6 219.5 L252.0 223.3 L255.0 225.3 L258.4 232.9 L262.0 234.1 L265.1 236.2 L268.4 230.7 L272.1 231.2 L275.5 229.0 L278.8 226.7 L282.2 227.0 L285.5 220.3 L288.9 222.5 L292.2 224.5 L295.6 226.2 L298.9 220.3 L302.6 211.1 L306.5 211.1 L309.2 210.2 L312.6 195.2 L316.3 178.7 L320.1 189.3 L323.5 190.5 L326.8 184.8 L331.0 187.6 L334.4 190.5 L337.2 197.7 L340.6 200.2 L343.9 206.6 L347.8 206.6 L353.7 207.2 L357.8 211.1 L361.2 213.9 L364.6 215.3 L367.9 225.8 L371.3 227.0 L374.6 229.5 L378.0 223.7 L381.3 229.5 L384.7 228.7 L388.0 229.0 L391.4 231.2 L394.7 231.7 L398.1 233.4 L401.4 235.1 L405.0 233.8 L409.4 237.5 L412.6 238.8 L415.7 239.9 L419.6 244.9 L422.8 242.7 L425.9 257.5 L429.1 255.3 L432.2 256.4 L436.1 265.8 L440.1 275.7 L444.0 265.0 L447.1 258.7 L450.3 248.5 L453.4 238.0 L456.6 242.2 L460.5 249.6 L463.6 250.1 L467.3 260.6 L470.7 255.6 L474.6 260.0 L477.8 258.7 L480.9 252.7 L484.5 267.4 L488.0 247.7 L491.5 264.7 L495.1 254.0 L497.4 230.1 L501.4 227.0 L505.0 224.5 L508.5 230.5 L512.1 224.2 L515.2 224.2 L519.1 216.4 L522.3 206.9 L525.4 196.7 L528.9 204.6 L532.5 212.7 L535.6 206.1 L538.8 199.9 L542.4 202.7 L546.2 200.2 L549.8 214.8 L552.9 214.8 L556.1 211.6 L559.7 209.3 L563.1 214.0 L566.3 207.7 L569.7 200.6 L573.4 182.3 L577.0 192.0 L580.7 187.0 L584.4 192.8 L587.5 197.5 L590.6 203.0 L594.3 206.9 L597.7 209.0 L600.9 202.2 L604.0 210.9 L607.5 219.5 L611.1 217.9 L614.8 216.6 L619.2 218.0 L624.3 215.0 L628.0 201.9 L631.9 189.2 L635.4 190.3 L638.8 196.6 L642.3 201.9 L645.7 203.0 L648.7 200.7 L652.2 209.9 L655.7 205.3 L658.9 182.7 L662.6 182.7 L666.0 168.0 L669.5 167.3 L672.7 163.4 L676.4 169.6 L679.6 162.7 L683.3 147.2 L688.4 143.1 L693.0 138.9 L696.5 141.9 L700.4 151.8 L704.1 149.5 L708.0 148.1 L711.5 140.8 L714.9 136.1 L719.8 136.0 L724.4 140.7 L728.0 144.9 L731.8 147.0 L735.5 150.1 L738.5 156.4 L741.2 168.0 L744.3 172.1 L747.5 181.6 L751.0 194.1 L753.1 202.5 L755.2 216.1 L758.0 196.2 L761.1 191.6 L765.3 191.6 L768.4 184.7 L772.0 176.3 L775.9 165.1 L779.6 165.2 L782.8 167.6 L785.8 173.7 L789.2 163.5 L790.8 152.5 L792.8 137.6 L796.1 132.3 L798.3 127.3 L799.9 121.0 L801.5 110.0 L802.8 102.6 L804.9 84.8 L806.7 69.4 L808.5 74.8 L810.4 79.4 L813.5 78.4 L816.6 111.1 L819.2 94.8 L820.9 89.8 L823.5 89.1 L826.3 97.6 L830.5 107.2 L833.6 104.2 L837.6 112.7 L840.9 98.4 L844.3 89.7 L847.6 112.7 L851.0 118.9 L854.3 113.2 L857.7 114.4 L861.0 111.5 L864.9 120.2 L868.3 147.1 L871.1 140.7 L874.5 135.3 L877.8 134.0 L882.2 135.5 L885.4 149.1 L888.6 154.8 L892.0 151.4 L895.4 149.1 L898.6 155.7 L902.4 160.8 L905.6 158.9 L909.4 165.2 L912.8 172.7 L916.2 162.7 L919.4 168.9 L923.2 178.4 L926.4 175.9 L929.8 160.4 L933.2 151.4 L936.4 150.1 L940.2 144.4 L943.4 141.2 L946.8 143.1 L950.6 140.6 L954.0 138.3 L957.2 140.6 L960.3 132.1 L962.0 119.6 L964.2 105.7 L967.6 114.5 L971.3 110.1 L974.6 113.0 L976.7 104.2 L978.6 96.1 L981.5 92.0 L985.2 100.5 L988.4 106.1 L991.4 103.2 L994.7 102.3 L998.4 114.9 L1002.1 113.0 L1005.7 111.1" fill="none" stroke="#17b479" stroke-width="2" stroke-linejoin="round" clip-path="url(#cUp)"/>
<path d="M15.1 227.6 L17.2 223.8 L19.7 220.4 L22.2 218.8 L24.7 218.5 L26.8 219.2 L28.9 220.4 L31.9 218.8 L33.5 221.7 L35.2 227.2 L36.9 225.9 L38.6 225.1 L40.2 227.6 L43.0 231.5 L45.0 230.5 L47.4 227.9 L50.3 227.9 L53.0 232.0 L56.6 235.9 L62.7 250.2 L66.1 243.4 L69.5 250.9 L72.9 247.5 L76.3 254.3 L79.1 253.6 L81.8 250.9 L83.2 244.1 L85.2 242.7 L87.9 241.3 L90.6 238.6 L93.4 240.7 L95.4 237.9 L100.5 228.2 L103.9 230.6 L107.3 226.5 L110.7 229.5 L114.1 221.4 L116.8 221.1 L120.9 220.3 L124.3 223.8 L127.7 218.6 L131.1 216.6 L134.5 222.7 L137.9 226.8 L141.3 227.5 L144.8 224.8 L148.2 222.7 L151.6 221.4 L155.0 228.2 L158.4 226.5 L162.5 214.5 L165.9 208.4 L169.3 211.1 L172.7 209.8 L176.1 203.6 L179.5 203.0 L182.9 214.5 L186.1 222.0 L189.7 203.0 L193.1 201.6 L196.6 210.4 L200.0 219.7 L205.0 219.5 L210.9 217.8 L213.4 218.3 L216.8 236.2 L220.5 245.8 L224.3 240.8 L227.7 243.8 L231.0 245.5 L234.4 247.5 L237.2 237.9 L241.1 232.9 L244.4 213.9 L248.6 219.5 L252.0 223.3 L255.0 225.3 L258.4 232.9 L262.0 234.1 L265.1 236.2 L268.4 230.7 L272.1 231.2 L275.5 229.0 L278.8 226.7 L282.2 227.0 L285.5 220.3 L288.9 222.5 L292.2 224.5 L295.6 226.2 L298.9 220.3 L302.6 211.1 L306.5 211.1 L309.2 210.2 L312.6 195.2 L316.3 178.7 L320.1 189.3 L323.5 190.5 L326.8 184.8 L331.0 187.6 L334.4 190.5 L337.2 197.7 L340.6 200.2 L343.9 206.6 L347.8 206.6 L353.7 207.2 L357.8 211.1 L361.2 213.9 L364.6 215.3 L367.9 225.8 L371.3 227.0 L374.6 229.5 L378.0 223.7 L381.3 229.5 L384.7 228.7 L388.0 229.0 L391.4 231.2 L394.7 231.7 L398.1 233.4 L401.4 235.1 L405.0 233.8 L409.4 237.5 L412.6 238.8 L415.7 239.9 L419.6 244.9 L422.8 242.7 L425.9 257.5 L429.1 255.3 L432.2 256.4 L436.1 265.8 L440.1 275.7 L444.0 265.0 L447.1 258.7 L450.3 248.5 L453.4 238.0 L456.6 242.2 L460.5 249.6 L463.6 250.1 L467.3 260.6 L470.7 255.6 L474.6 260.0 L477.8 258.7 L480.9 252.7 L484.5 267.4 L488.0 247.7 L491.5 264.7 L495.1 254.0 L497.4 230.1 L501.4 227.0 L505.0 224.5 L508.5 230.5 L512.1 224.2 L515.2 224.2 L519.1 216.4 L522.3 206.9 L525.4 196.7 L528.9 204.6 L532.5 212.7 L535.6 206.1 L538.8 199.9 L542.4 202.7 L546.2 200.2 L549.8 214.8 L552.9 214.8 L556.1 211.6 L559.7 209.3 L563.1 214.0 L566.3 207.7 L569.7 200.6 L573.4 182.3 L577.0 192.0 L580.7 187.0 L584.4 192.8 L587.5 197.5 L590.6 203.0 L594.3 206.9 L597.7 209.0 L600.9 202.2 L604.0 210.9 L607.5 219.5 L611.1 217.9 L614.8 216.6 L619.2 218.0 L624.3 215.0 L628.0 201.9 L631.9 189.2 L635.4 190.3 L638.8 196.6 L642.3 201.9 L645.7 203.0 L648.7 200.7 L652.2 209.9 L655.7 205.3 L658.9 182.7 L662.6 182.7 L666.0 168.0 L669.5 167.3 L672.7 163.4 L676.4 169.6 L679.6 162.7 L683.3 147.2 L688.4 143.1 L693.0 138.9 L696.5 141.9 L700.4 151.8 L704.1 149.5 L708.0 148.1 L711.5 140.8 L714.9 136.1 L719.8 136.0 L724.4 140.7 L728.0 144.9 L731.8 147.0 L735.5 150.1 L738.5 156.4 L741.2 168.0 L744.3 172.1 L747.5 181.6 L751.0 194.1 L753.1 202.5 L755.2 216.1 L758.0 196.2 L761.1 191.6 L765.3 191.6 L768.4 184.7 L772.0 176.3 L775.9 165.1 L779.6 165.2 L782.8 167.6 L785.8 173.7 L789.2 163.5 L790.8 152.5 L792.8 137.6 L796.1 132.3 L798.3 127.3 L799.9 121.0 L801.5 110.0 L802.8 102.6 L804.9 84.8 L806.7 69.4 L808.5 74.8 L810.4 79.4 L813.5 78.4 L816.6 111.1 L819.2 94.8 L820.9 89.8 L823.5 89.1 L826.3 97.6 L830.5 107.2 L833.6 104.2 L837.6 112.7 L840.9 98.4 L844.3 89.7 L847.6 112.7 L851.0 118.9 L854.3 113.2 L857.7 114.4 L861.0 111.5 L864.9 120.2 L868.3 147.1 L871.1 140.7 L874.5 135.3 L877.8 134.0 L882.2 135.5 L885.4 149.1 L888.6 154.8 L892.0 151.4 L895.4 149.1 L898.6 155.7 L902.4 160.8 L905.6 158.9 L909.4 165.2 L912.8 172.7 L916.2 162.7 L919.4 168.9 L923.2 178.4 L926.4 175.9 L929.8 160.4 L933.2 151.4 L936.4 150.1 L940.2 144.4 L943.4 141.2 L946.8 143.1 L950.6 140.6 L954.0 138.3 L957.2 140.6 L960.3 132.1 L962.0 119.6 L964.2 105.7 L967.6 114.5 L971.3 110.1 L974.6 113.0 L976.7 104.2 L978.6 96.1 L981.5 92.0 L985.2 100.5 L988.4 106.1 L991.4 103.2 L994.7 102.3 L998.4 114.9 L1002.1 113.0 L1005.7 111.1" fill="none" stroke="#e0323f" stroke-width="2" stroke-linejoin="round" clip-path="url(#cDn)"/>
<!-- baseline label -->
<rect x="11" y="228.3" width="45" height="18.4" fill="#fff" fill-opacity="0.94"/>
<path d="M8 235.8 L10.6 237.6 L8 239.4 Z" fill="#c9303c"/>
<text x="14" y="242.6" font-size="11" fill="#5e6572" stroke="#5e6572" stroke-width="0.2" textLength="37.6" lengthAdjust="spacingAndGlyphs">118.16K</text>
<!-- y labels -->
<g font-size="11" fill="#787e8a" stroke="#787e8a" stroke-width="0.2"><text x="1013" y="73.2">121.00K</text><text x="1013" y="132.5">120.00K</text><text x="1013" y="192.2">119.00K</text><text x="1013" y="251.4">118.00K</text><text x="1013" y="310.5">117.00K</text></g>
<rect x="1007" y="99.5" width="54" height="25" rx="3" fill="#19be7f"/>
<text x="1034.3" y="116" font-size="11.5" fill="#fff" stroke="#fff" stroke-width="0.2" text-anchor="middle">120.28K</text>
<text x="1019.5" y="358.7" font-size="12" font-weight="700" fill="#7b818d">USD</text>
<!-- x labels -->
<g font-size="11" fill="#7b818d" stroke="#7b818d" stroke-width="0.15" letter-spacing="0.5"><text x="11.8" y="377.7" letter-spacing="0.2">2:00 ...</text><text x="90.4" y="377.7" text-anchor="middle">4:00 AM</text><text x="172.6" y="377.7" text-anchor="middle">6:00 AM</text><text x="254.8" y="377.7" text-anchor="middle">8:00 AM</text><text x="337.0" y="377.7" text-anchor="middle">10:00 AM</text><text x="419.2" y="377.7" text-anchor="middle">12:00 PM</text><text x="501.4" y="377.7" text-anchor="middle">2:00 PM</text><text x="583.6" y="377.7" text-anchor="middle">4:00 PM</text><text x="665.8" y="377.7" text-anchor="middle">6:00 PM</text><text x="748.0" y="377.7" text-anchor="middle">8:00 PM</text><text x="830.2" y="377.7" text-anchor="middle">10:00 PM</text><text x="912.4" y="377.7" text-anchor="middle">18 Jul</text><text x="994.6" y="377.7" text-anchor="middle">2:00 AM</text></g>
<!-- badge 120 -->
<path d="M8.2 396 L16 385.5 Q17.5 384 20 384 L47 384 A12.2 12.2 0 0 1 47 408.4 L20 408.4 Q17.5 408.4 16 406.9 Z" fill="#a6b0c3"/>
<g fill="none" stroke="#fff" stroke-width="1.3" stroke-linecap="round" stroke-linejoin="round">
  <path d="M19.2 393.7 A5 5 0 1 1 19.57 397.9"/>
  <path d="M18.4 391.7 L19.2 393.8 L21.3 393.3"/>
  <path d="M23.6 392.9 L23.7 395.7 L25.8 397.4"/>
</g>
<text x="34" y="399.8" font-size="11" fill="#fff">120</text>
<!-- purple news badge -->
<path d="M930.5 384.3 L934 380.6 L937.5 384.3 Z" fill="#7d3ff0"/>
<rect x="863.2" y="384.3" width="141.5" height="23.8" rx="11.9" fill="#7d3ff0"/>
<path d="M876.6 390.4 L871.3 396.9 L875.1 396.9 L873.7 401.8 L879.1 395.3 L875.3 395.3 Z" fill="none" stroke="#fff" stroke-width="1.35" stroke-linejoin="round"/>
<text x="885" y="399.8" font-size="11.8" fill="#fff" stroke="#fff" stroke-width="0.15" textLength="110.5" lengthAdjust="spacingAndGlyphs">Bitcoin experts draf...</text>
<!-- navigator -->
<g stroke="#f0f1f3" stroke-width="1">
  <line x1="8" y1="413.5" x2="1008" y2="413.5"/>
  <line x1="8" y1="453.5" x2="1008" y2="453.5"/>
</g>
<g stroke="#f3f4f6" stroke-width="1"><line x1="106.5" y1="414" x2="106.5" y2="453"/><line x1="238.5" y1="414" x2="238.5" y2="453"/><line x1="372.5" y1="414" x2="372.5" y2="453"/><line x1="505.5" y1="414" x2="505.5" y2="453"/><line x1="637.5" y1="414" x2="637.5" y2="453"/><line x1="771.5" y1="414" x2="771.5" y2="453"/><line x1="903.5" y1="414" x2="903.5" y2="453"/></g>
<path d="M8 453.5 L8.0 452.8 L100.0 452.6 L300.0 452.4 L480.0 452.0 L495.0 451.0 L500.0 449.5 L503.0 448.6 L507.0 449.5 L515.0 451.0 L540.0 451.3 L600.0 451.0 L640.0 450.0 L680.0 449.6 L696.0 448.9 L704.0 444.6 L712.0 439.0 L718.0 436.7 L723.0 435.1 L728.0 436.7 L731.0 441.4 L736.0 442.2 L742.0 443.8 L745.0 440.3 L750.0 439.0 L755.0 437.4 L758.0 435.1 L762.0 434.0 L766.0 436.7 L770.0 439.8 L778.0 440.6 L788.0 440.3 L794.0 442.2 L800.0 446.2 L807.0 447.0 L815.0 447.8 L831.0 448.9 L840.0 447.3 L845.0 447.5 L856.0 444.8 L869.0 444.3 L885.0 445.1 L893.0 443.5 L899.0 441.2 L908.0 440.4 L913.0 435.6 L918.0 432.4 L924.0 434.3 L931.0 432.8 L937.0 434.8 L943.0 434.3 L948.0 436.4 L956.0 434.0 L961.0 430.9 L963.0 426.1 L969.0 422.9 L975.0 422.9 L980.0 425.3 L985.0 426.9 L989.0 427.7 L992.5 423.7 L997.0 421.3 L1002.0 420.5 L1006.5 419.8 L1006.5 453.5 Z" fill="#eef1f5"/>
<g font-size="11" fill="#7e8490" stroke="#7e8490" stroke-width="0.1"><text x="105.6" y="469.8" text-anchor="middle">2012</text><text x="238.5" y="469.8" text-anchor="middle">2014</text><text x="371.6" y="469.8" text-anchor="middle">2016</text><text x="504.6" y="469.8" text-anchor="middle">2018</text><text x="637.3" y="469.8" text-anchor="middle">2020</text><text x="770.6" y="469.8" text-anchor="middle">2022</text><text x="903.3" y="469.8" text-anchor="middle">2024</text></g>
<rect x="999" y="424.5" width="13.5" height="17.5" rx="6.5" fill="#fff" filter="url(#sh)"/>
<g stroke="#8a8f98" stroke-width="1"><line x1="1004.3" y1="429.5" x2="1004.3" y2="437"/><line x1="1007.2" y1="429.5" x2="1007.2" y2="437"/></g>
</svg>
</body></html>
